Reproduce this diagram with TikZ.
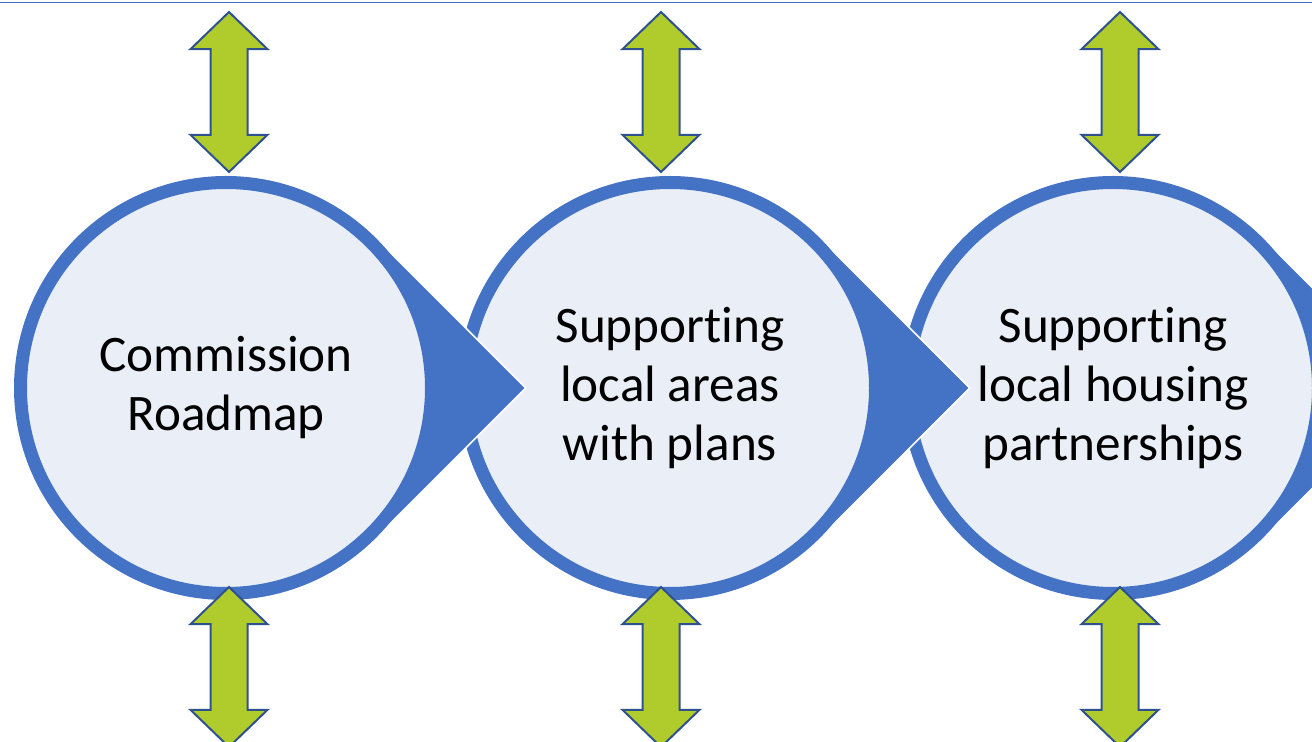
\documentclass[tikz,border=0pt]{standalone}
\usepackage{fontspec}
\setmainfont{Carlito}
\usepackage{tikz}
\usetikzlibrary{calc,shapes.arrows}
\definecolor{ringblue}{HTML}{4472C4}
\definecolor{paleblue}{HTML}{E9EEF7}
\definecolor{limegreen}{HTML}{B0CC2C}
\definecolor{arrowedge}{HTML}{2F528F}

\begin{document}
\begin{tikzpicture}[line cap=round,line join=round,x=0.5pt,y=-0.5pt,
    bubble/.style={circle,draw=ringblue,line width=6.5pt,fill=paleblue,minimum size=205.5pt,
        inner sep=0pt,outer sep=0pt,align=center,font=\fontsize{25.6}{29.5}\selectfont},
    pointer/.style={fill=ringblue},
    pointeredge/.style={draw=white,line width=0.8pt},
    updown/.style={double arrow,rotate=90,draw=arrowedge,line width=1pt,fill=limegreen,
        minimum height=80pt,inner xsep=0pt,inner ysep=8.75pt,double arrow head extend=10pt,
        double arrow tip angle=92,line join=miter}]
                \useasboundingbox (0,0) rectangle (1312,742);
                \clip (0,0) rectangle (1312,742);
                \draw [ringblue, line width=0.7pt] (0,2.7)-- (1312,2.7);
                \coordinate (c1) at (226,388);
                \coordinate (c2) at (670,388);
                \coordinate (c3) at (1113,388);
                % third circle
                \fill [pointer] ($(c3)+(45:106pt)$)-- ($(c3)+(0:149.9pt)$)-- ($(c3)+(-45:106pt)$)-- cycle;
                \draw [pointeredge] ($(c3)+(45:106pt)$)-- ($(c3)+(0:149.9pt)$)-- ($(c3)+(-45:106pt)$);
                \node [bubble] (partnerships) at (c3) {Support\kern0pt ing\\local housing\\partnerships};
                % second circle
                \fill [pointer] ($(c2)+(45:106pt)$)-- ($(c2)+(0:149.9pt)$)-- ($(c2)+(-45:106pt)$)-- cycle;
                \draw [pointeredge] ($(c2)+(45:106pt)$)-- ($(c2)+(0:149.9pt)$)-- ($(c2)+(-45:106pt)$);
                \node [bubble] (plans) at (c2) {Support\kern0pt ing\\local areas\\with plans};
                % first circle
                \fill [pointer] ($(c1)+(45:106pt)$)-- ($(c1)+(0:149.9pt)$)-- ($(c1)+(-45:106pt)$)-- cycle;
                \draw [pointeredge] ($(c1)+(45:106pt)$)-- ($(c1)+(0:149.9pt)$)-- ($(c1)+(-45:106pt)$);
                \node [bubble] (roadmap) at (c1) {Commission\\Roadmap};
                % arrows above and below
                \node [updown] (up1) at (229,92) {};
                \node [updown] (up2) at (661,92) {};
                \node [updown] (up3) at (1120,92) {};
                \node [updown] (down1) at (229,667) {};
                \node [updown] (down2) at (661,667) {};
                \node [updown] (down3) at (1120,667) {};
\end{tikzpicture}
\end{document}
